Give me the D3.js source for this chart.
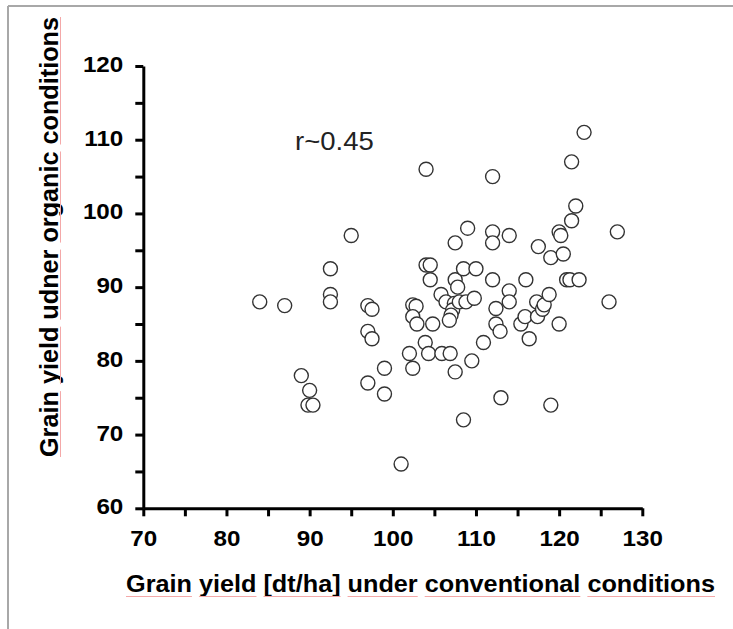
<!DOCTYPE html>
<html>
<head>
<meta charset="UTF-8">
<title>Grain yield</title>
<script src="https://cdnjs.cloudflare.com/ajax/libs/d3/7.8.5/d3.min.js"></script>
<style>
  body { margin: 0; background: #fff; }
  svg { display: block; }
</style>
</head>
<body>
<div id="chart"></div>
<script>
// values
var conventional = [84, 87, 89, 90, 89.8, 90.4, 92.5, 92.5, 92.5, 95, 97, 97.5, 97, 97.5, 97, 99, 99,
  101, 102, 102.4, 102.4, 102.8, 102.4, 102.9, 104.8, 103.9, 104.3, 105.9, 106.9, 104, 104, 104.5,
  104.5, 105.8, 106.4, 107.5, 107.8, 107.4, 107.2, 107, 106.8, 108, 108.8, 109.8, 107.5, 107.5, 108.5,
  108.5, 110, 109, 109.5, 110.9, 112, 112, 112, 112, 112.4, 112.4, 112.9, 113, 114, 114, 114, 115.4,
  115.9, 116.4, 116, 117.5, 117.3, 117.4, 118, 118.2, 118.8, 119, 119, 120, 120, 120.2, 120.5, 120.9,
  121.3, 122.4, 121.5, 121.5, 122, 123, 126, 127];
var organic = [88, 87.5, 78, 76, 74, 74, 92.5, 89, 88, 97, 87.5, 87, 84, 83, 77, 79, 75.5,
  66, 81, 79, 87.6, 87.4, 86, 85, 85, 82.5, 81, 81, 81, 106, 93, 93,
  91, 89, 88, 91, 90, 87.8, 86.9, 86.2, 85.5, 88, 88, 88.5, 96, 78.5, 72,
  92.5, 92.5, 98, 80, 82.5, 105, 97.5, 96, 91, 87.1, 85, 84, 75, 97, 89.5, 88, 85,
  86, 83, 91, 95.5, 88, 86, 87, 87.6, 89, 94, 74, 85, 97.5, 97, 94.5, 91,
  91, 91, 107, 99, 101, 111, 88, 97.5];
var xTicks = [70, 75, 80, 85, 90, 95, 100, 105, 110, 115, 120, 125, 130];
var yTicks = [60, 65, 70, 75, 80, 85, 90, 95, 100, 105, 110, 115, 120];
var xLabelTicks = [70, 80, 90, 100, 110, 120, 130];
var yLabelTicks = [60, 70, 80, 90, 100, 110, 120];
var xTitle = "Grain yield [dt/ha] under conventional conditions";
var yTitle = "Grain yield udner organic conditions";
var note = "r~0.45";

var width = 733, height = 629;
var font = "'Liberation Sans', Arial, sans-serif";

var svg = d3.select("#chart").append("svg")
    .attr("width", width)
    .attr("height", height);

// frame lines
svg.append("line").attr("x1", 8).attr("y1", 6).attr("x2", width).attr("y2", 6)
    .attr("stroke", "#a8a8a8").attr("stroke-width", 2);
svg.append("line").attr("x1", 8).attr("y1", 6).attr("x2", 8).attr("y2", height)
    .attr("stroke", "#a8a8a8").attr("stroke-width", 2);

var x = d3.scaleLinear().domain([70, 130]).range([143.3, 642.3]);
var y = d3.scaleLinear().domain([60, 120]).range([508.3, 66]);

// the picture is a little wider than tall, so widen text a bit
function stretch(sel, k) {
    sel.each(function() {
        var w = this.getComputedTextLength();
        this.setAttribute("textLength", w * k);
        this.setAttribute("lengthAdjust", "spacingAndGlyphs");
    });
}

var xAxis = svg.append("g")
    .attr("transform", "translate(0," + y(60) + ")")
    .call(d3.axisBottom(x).tickValues(xTicks).tickSize(8).tickSizeOuter(0).tickPadding(14)
        .tickFormat(function(d) { return xLabelTicks.indexOf(d) >= 0 ? d : ""; }));
var yAxis = svg.append("g")
    .attr("transform", "translate(" + x(70) + ",0)")
    .call(d3.axisLeft(y).tickValues(yTicks).tickSize(8).tickSizeOuter(0).tickPadding(12)
        .tickFormat(function(d) { return yLabelTicks.indexOf(d) >= 0 ? d : ""; }));

[xAxis, yAxis].forEach(function(a) {
    a.select(".domain").attr("stroke", "#000").attr("stroke-width", 3);
    a.selectAll(".tick line").attr("stroke", "#000").attr("stroke-width", 3);
    a.selectAll(".tick text")
        .attr("fill", "#000")
        .style("font-family", font)
        .style("font-weight", "bold")
        .style("font-size", "22px");
    stretch(a.selectAll(".tick text"), 1.1);
});
yAxis.selectAll(".tick text").attr("dy", "0.25em");

// points
svg.append("g").selectAll("circle")
    .data(conventional.map(function(v, i) { return [v, organic[i]]; }))
    .enter().append("circle")
    .attr("cx", function(d) { return x(d[0]); })
    .attr("cy", function(d) { return y(d[1]); })
    .attr("r", 7)
    .attr("fill", "#fff")
    .attr("stroke", "#333")
    .attr("stroke-width", 1.4);

svg.append("text")
    .attr("x", 295).attr("y", 149.5)
    .attr("fill", "#222")
    .style("font-family", font)
    .style("font-size", "25px")
    .text(note)
    .call(stretch, 1.1);

// titles
var xt = svg.append("text")
    .attr("x", 126).attr("y", 592)
    .attr("fill", "#000")
    .style("font-family", font)
    .style("font-weight", "bold")
    .style("font-size", "23px")
    .attr("textLength", 589)
    .attr("lengthAdjust", "spacingAndGlyphs")
    .text(xTitle);

var yt = svg.append("text")
    .attr("transform", "translate(58,237) rotate(-90)")
    .attr("x", -220).attr("y", 0)
    .attr("fill", "#000")
    .style("font-family", font)
    .style("font-weight", "bold")
    .style("font-size", "25px")
    .attr("textLength", 440)
    .attr("lengthAdjust", "spacingAndGlyphs")
    .text(yTitle);

// spell-check underlines under every word
var ulg = svg.append("g").attr("stroke", "#f4a8a8").attr("stroke-width", 1);
(function() {
    var node = xt.node(), s = node.textContent, re = /\S+/g, m;
    while ((m = re.exec(s)) !== null) {
        var a = node.getExtentOfChar(m.index);
        var b = node.getExtentOfChar(m.index + m[0].length - 1);
        ulg.append("line").attr("x1", a.x).attr("x2", b.x + b.width).attr("y1", 596.5).attr("y2", 596.5);
    }
    node = yt.node(); s = node.textContent; re = /\S+/g;
    while ((m = re.exec(s)) !== null) {
        var a2 = node.getExtentOfChar(m.index);
        var b2 = node.getExtentOfChar(m.index + m[0].length - 1);
        // local x along the rotated text maps to screen y = 237 - x
        ulg.append("line").attr("x1", 60.5).attr("x2", 60.5)
            .attr("y1", 237 - a2.x).attr("y2", 237 - (b2.x + b2.width));
    }
})();
</script>
</body>
</html>
